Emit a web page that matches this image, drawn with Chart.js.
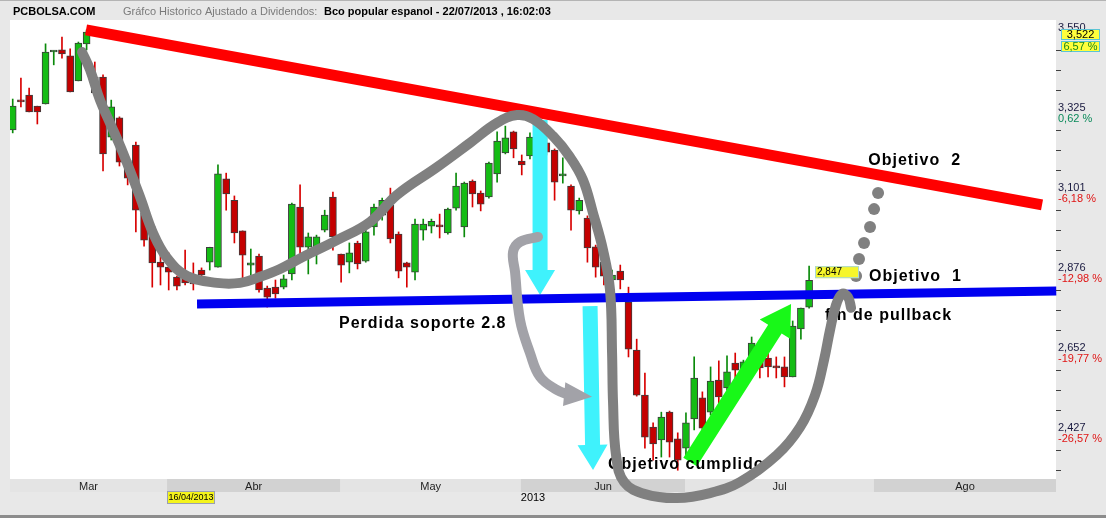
<!DOCTYPE html>
<html>
<head>
<meta charset="utf-8">
<script src="https://cdn.jsdelivr.net/npm/chart.js@4.4.0/dist/chart.umd.min.js"></script>
<style>
html, body { margin: 0; padding: 0; background: #e8e8e8; }
canvas { display: block; }
</style>
</head>
<body>
<canvas id="c" width="1106" height="518"></canvas>
<script>
// one entry per session, 4 Mar 2013 .. 22 Jul 2013
var open = [3.269, 3.353, 3.367, 3.336, 3.342, 3.488, 3.494, 3.477, 3.407, 3.511,
  3.418, 3.418, 3.249, 3.303, 3.185, 3.227, 3.036, 2.997, 2.898, 2.884,
  2.856, 2.854, 2.842, 2.876, 2.898, 2.884, 3.132, 3.072, 2.986, 2.890,
  2.915, 2.825, 2.828, 2.828, 2.865, 3.053, 2.940, 2.940, 2.988, 3.081,
  2.921, 2.898, 2.952, 2.901, 2.997, 3.030, 3.058, 2.977, 2.896, 2.870,
  2.988, 2.999, 3.002, 2.980, 3.050, 2.997, 3.126, 3.092, 3.081, 3.146,
  3.205, 3.264, 3.182, 3.196, 3.247, 3.233, 3.213, 3.140, 3.112, 3.042,
  3.022, 2.941, 2.898, 2.848, 2.873, 2.786, 2.651, 2.525, 2.435, 2.399,
  2.477, 2.402, 2.376, 2.458, 2.517, 2.477, 2.567, 2.545, 2.615, 2.590,
  2.604, 2.629, 2.629, 2.607, 2.604, 2.576, 2.711, 2.772];
var high = [3.356, 3.415, 3.387, 3.336, 3.511, 3.491, 3.530, 3.497, 3.516, 3.550,
  3.460, 3.424, 3.353, 3.306, 3.199, 3.235, 3.044, 3.002, 2.924, 2.924,
  2.859, 2.932, 2.896, 2.882, 2.940, 3.171, 3.148, 3.084, 2.986, 2.935,
  2.921, 2.831, 2.848, 2.862, 3.064, 3.115, 2.980, 2.974, 3.044, 3.095,
  2.921, 2.952, 2.957, 3.002, 3.061, 3.078, 3.106, 2.983, 2.898, 3.019,
  3.019, 3.019, 3.033, 3.050, 3.148, 3.123, 3.129, 3.098, 3.179, 3.264,
  3.280, 3.266, 3.199, 3.261, 3.269, 3.247, 3.216, 3.191, 3.115, 3.078,
  3.028, 2.946, 2.918, 2.876, 2.890, 2.828, 2.682, 2.587, 2.447, 2.477,
  2.480, 2.419, 2.475, 2.632, 2.534, 2.604, 2.621, 2.635, 2.643, 2.623,
  2.688, 2.679, 2.643, 2.632, 2.632, 2.733, 2.769, 2.887];
var low = [3.261, 3.334, 3.320, 3.286, 3.342, 3.452, 3.471, 3.376, 3.407, 3.494,
  3.367, 3.154, 3.241, 3.168, 3.115, 2.983, 2.943, 2.828, 2.834, 2.820,
  2.820, 2.834, 2.820, 2.842, 2.876, 2.884, 3.044, 2.952, 2.854, 2.854,
  2.814, 2.772, 2.797, 2.823, 2.848, 2.912, 2.865, 2.893, 2.983, 2.932,
  2.842, 2.868, 2.879, 2.898, 2.974, 3.016, 2.952, 2.854, 2.828, 2.848,
  2.960, 2.980, 2.966, 2.977, 3.044, 2.969, 3.053, 3.042, 3.078, 3.123,
  3.202, 3.191, 3.143, 3.188, 3.213, 3.199, 3.072, 3.120, 2.988, 3.033,
  2.898, 2.856, 2.834, 2.842, 2.823, 2.632, 2.522, 2.376, 2.342, 2.351,
  2.351, 2.314, 2.351, 2.427, 2.399, 2.469, 2.491, 2.539, 2.517, 2.567,
  2.601, 2.573, 2.576, 2.573, 2.548, 2.576, 2.682, 2.769];
var close = [3.336, 3.348, 3.320, 3.320, 3.488, 3.491, 3.483, 3.376, 3.513, 3.544,
  3.373, 3.202, 3.334, 3.179, 3.134, 3.044, 2.960, 2.896, 2.884, 2.870,
  2.831, 2.840, 2.837, 2.862, 2.940, 3.146, 3.090, 2.980, 2.918, 2.896,
  2.820, 2.800, 2.809, 2.851, 3.061, 2.940, 2.969, 2.969, 3.030, 2.969,
  2.890, 2.924, 2.893, 2.983, 3.053, 3.072, 2.963, 2.873, 2.884, 3.005,
  3.005, 3.013, 2.997, 3.047, 3.112, 3.120, 3.090, 3.061, 3.176, 3.238,
  3.247, 3.216, 3.171, 3.249, 3.227, 3.207, 3.123, 3.146, 3.044, 3.072,
  2.938, 2.884, 2.859, 2.862, 2.848, 2.654, 2.525, 2.407, 2.388, 2.463,
  2.393, 2.342, 2.447, 2.573, 2.432, 2.564, 2.520, 2.590, 2.595, 2.618,
  2.671, 2.601, 2.604, 2.601, 2.576, 2.719, 2.769, 2.847];

// month bands, in session index units
var months = ['Mar', 'Abr', 'May', 'Jun', 'Jul', 'Ago'];
var monthStart = [-0.33, 18.8, 39.9, 61.9, 81.9, 104.9, 127.07];

// right axis
var yTicks = [3.550, 3.325, 3.101, 2.876, 2.652, 2.427];
var yTickLabels = ['3,550', '3,325', '3,101', '2,876', '2,652', '2,427'];
var yPctLabels = ['', '0,62 %', '-6,18 %', '-12,98 %', '-19,77 %', '-26,57 %'];

// hand drawn marks, [session index, price]
var redLine = [[8.93, 3.550], [125.37, 3.059]];
var blueLine = [[22.45, 2.781], [127.1, 2.817]];
var grayPath = [[8.44, 3.488], [9.42, 3.438], [10.63, 3.353], [11.85, 3.289], [13.43, 3.205],
  [15.51, 3.081], [17.09, 2.980], [18.79, 2.910], [21.23, 2.859], [24.88, 2.840], [27.69, 2.840],
  [30.12, 2.857], [32.56, 2.879], [35.36, 2.913], [39.50, 2.960], [43.52, 3.011], [46.81, 3.087],
  [51.68, 3.165], [55.70, 3.233], [58.99, 3.289], [61.43, 3.311], [63.37, 3.300], [65.81, 3.252],
  [67.88, 3.193], [69.46, 3.129], [70.68, 3.036], [71.90, 2.932], [72.75, 2.820], [73.00, 2.643],
  [73.12, 2.503], [73.48, 2.357], [74.46, 2.281], [77.02, 2.247], [80.92, 2.236], [84.93, 2.250],
  [88.59, 2.281], [93.09, 2.357], [95.90, 2.435], [97.72, 2.525], [98.82, 2.624], [99.55, 2.708],
  [100.28, 2.778], [101.01, 2.809], [101.74, 2.800], [102.11, 2.770]];
var lightPath = [[63.98, 2.969], [61.79, 2.955], [60.94, 2.927], [61.18, 2.871], [61.79, 2.736],
  [63.01, 2.643], [64.23, 2.576], [66.30, 2.539], [67.6, 2.527]];
var lightHead = [[67.0, 2.528], [70.56, 2.520]];
var dots = [[105.40, 3.092], [104.91, 3.047], [104.42, 2.997], [103.69, 2.952], [103.08, 2.907], [102.72, 2.859]];
var cyanArrows = [[[64.23, 3.297], [64.23, 2.806]], [[70.32, 2.775], [70.68, 2.315]]];
var greenArrow = [[82.5, 2.337], [94.8, 2.781]];
var notes = [
  { text: 'Objetivo  2', at: [104.2, 3.182] },
  { text: 'Objetivo  1', at: [104.3, 2.857] },
  { text: 'fin de pullback', at: [98.94, 2.747] },
  { text: 'Perdida soporte 2.8', at: [39.74, 2.725] },
  { text: 'Objetivo cumplido', at: [72.51, 2.331] }
];
var lastPrice = { text: '2,847', at: [97.72, 2.870] };

var FONT = '"Liberation Sans", Arial, sans-serif';

function xy(list) {
  return list.map(function (p) { return { x: p[0], y: p[1] }; });
}
function isUp(i) { return close[i] >= open[i]; }

var wickData = close.map(function (c, i) { return { x: i, y: [low[i], high[i]] }; });
var bodyData = close.map(function (c, i) { return { x: i, y: [Math.min(open[i], c), Math.max(open[i], c)] }; });

function arrow(ctx, a, b, shaft, headW, headL, color) {
  var dx = b.x - a.x, dy = b.y - a.y, L = Math.sqrt(dx * dx + dy * dy);
  var ux = dx / L, uy = dy / L, nx = -uy, ny = ux;
  var bx = b.x - ux * headL, by = b.y - uy * headL;
  ctx.fillStyle = color;
  ctx.beginPath();
  ctx.moveTo(a.x + nx * shaft / 2, a.y + ny * shaft / 2);
  ctx.lineTo(bx + nx * shaft / 2, by + ny * shaft / 2);
  ctx.lineTo(bx + nx * headW / 2, by + ny * headW / 2);
  ctx.lineTo(b.x, b.y);
  ctx.lineTo(bx - nx * headW / 2, by - ny * headW / 2);
  ctx.lineTo(bx - nx * shaft / 2, by - ny * shaft / 2);
  ctx.lineTo(a.x - nx * shaft / 2, a.y - ny * shaft / 2);
  ctx.closePath();
  ctx.fill();
}

var paint = {
  id: 'paint',
  beforeDraw: function (chart) {
    var c = chart.ctx, a = chart.chartArea;
    c.save();
    c.fillStyle = '#e8e8e8';
    c.fillRect(0, 0, chart.width, chart.height);
    c.fillStyle = '#ffffff';
    c.fillRect(a.left, a.top, a.right - a.left, a.bottom - a.top + 1);
    c.fillStyle = '#b4b4b4';
    c.fillRect(0, 0, chart.width, 1);
    c.fillStyle = '#8c8c8c';
    c.fillRect(0, 515, chart.width, 3);
    c.restore();
  },
  beforeDatasetsDraw: function (chart) {
    var c = chart.ctx, a = chart.chartArea, sx = chart.scales.x;
    c.save();
    c.font = '11px ' + FONT;
    c.textAlign = 'center';
    c.textBaseline = 'middle';
    for (var m = 0; m < months.length; m++) {
      var x0 = sx.getPixelForValue(monthStart[m]);
      var x1 = sx.getPixelForValue(monthStart[m + 1]);
      c.fillStyle = (m % 2 === 1) ? '#d2d2d2' : '#e4e4e4';
      c.fillRect(x0, a.bottom + 1, x1 - x0, 13);
      c.fillStyle = '#1e1e1e';
      c.fillText(months[m], (x0 + x1) / 2, a.bottom + 9);
    }
    // cursor date and year
    c.fillStyle = '#f4f41c';
    c.fillRect(167, 491, 48, 13);
    c.strokeStyle = '#9aa0b0';
    c.lineWidth = 1;
    c.strokeRect(167.5, 491.5, 47, 12);
    c.fillStyle = '#000';
    c.font = '9px ' + FONT;
    c.fillText('16/04/2013', 191, 498);
    c.font = '11px ' + FONT;
    c.fillText('2013', 533, 498);
    c.restore();
  },
  afterDatasetDraw: function (chart, args) {
    var c = chart.ctx, sx = chart.scales.x, sy = chart.scales.y;
    function px(p) { return { x: sx.getPixelForValue(p[0]), y: sy.getPixelForValue(p[1]) }; }
    c.save();
    if (args.index === 1) {
      cyanArrows.forEach(function (ar) {
        arrow(c, px(ar[0]), px(ar[1]), 15, 30, 25, '#3ff2fc');
      });
      arrow(c, px(greenArrow[0]), px(greenArrow[1]), 16, 36, 30, '#18f818');
      c.fillStyle = '#000';
      c.font = 'bold 16px ' + FONT;
      c.letterSpacing = '1px';
      c.textBaseline = 'middle';
      c.textAlign = 'left';
      notes.forEach(function (n) {
        var p = px(n.at);
        c.fillText(n.text, p.x, p.y);
      });
    }
    if (args.index === 4) {
      arrow(c, px(lightHead[0]), px(lightHead[1]), 0, 24, 28, '#a2a2a8');
    }
    c.restore();
  },
  afterDraw: function (chart) {
    var c = chart.ctx, a = chart.chartArea, sx = chart.scales.x, sy = chart.scales.y;
    c.save();
    // header
    c.textBaseline = 'middle';
    c.textAlign = 'left';
    c.fillStyle = '#000';
    c.font = 'bold 11px ' + FONT;
    c.fillText('PCBOLSA.COM', 13, 12);
    c.fillStyle = '#7a7a7a';
    c.font = '11px ' + FONT;
    c.fillText('Gráfco Historico Ajustado a Dividendos:', 123, 12);
    c.fillStyle = '#000';
    c.font = 'bold 11px ' + FONT;
    c.fillText('Bco popular espanol - 22/07/2013 , 16:02:03', 324, 12);

    // right axis: minor ticks and labels
    var step = (yTicks[0] - yTicks[1]) / 4;
    c.fillStyle = '#404040';
    for (var k = 0; k < yTicks.length; k++) {
      for (var q = 1; q < 4; q++) {
        var ty = Math.round(sy.getPixelForValue(yTicks[k] - q * step)) + 0.5;
        if (ty < a.bottom) c.fillRect(a.right, ty - 0.5, 5, 1);
      }
    }
    c.font = '11px ' + FONT;
    for (var j = 0; j < yTicks.length; j++) {
      var y = sy.getPixelForValue(yTicks[j]);
      c.fillStyle = '#1a1a40';
      c.fillText(yTickLabels[j], a.right + 2, y - 2);
      var pct = yPctLabels[j];
      if (pct) {
        c.fillStyle = pct.charAt(0) === '-' ? '#e01414' : '#0a8a5a';
        c.fillText(pct, a.right + 2, y + 9);
      }
    }
    // top right value boxes
    c.textAlign = 'center';
    c.fillStyle = '#ffff3c';
    c.fillRect(1061, 29, 39, 11);
    c.fillRect(1061, 41, 39, 11);
    c.strokeStyle = '#5cc4d4';
    c.lineWidth = 1;
    c.strokeRect(1061.5, 29.5, 38, 10);
    c.strokeRect(1061.5, 41.5, 38, 10);
    c.fillStyle = '#000';
    c.fillText('3,522', 1080.5, 35);
    c.fillStyle = '#1a8a1a';
    c.fillText('6,57 %', 1080.5, 47);

    // last price box
    var lp = { x: sx.getPixelForValue(lastPrice.at[0]), y: sy.getPixelForValue(lastPrice.at[1]) };
    c.fillStyle = '#f6f62a';
    c.fillRect(lp.x, lp.y - 6, 44, 12);
    c.strokeStyle = '#a8d8d8';
    c.strokeRect(lp.x + 0.5, lp.y - 5.5, 43, 11);
    c.fillStyle = '#000';
    c.textAlign = 'left';
    c.font = '10px ' + FONT;
    c.fillText(lastPrice.text, lp.x + 2, lp.y);
    c.restore();
  }
};

new Chart(document.getElementById('c').getContext('2d'), {
  type: 'bar',
  data: {
    datasets: [
      {
        label: 'wick',
        data: wickData,
        order: 20,
        grouped: false,
        barThickness: 1,
        borderWidth: 0,
        backgroundColor: function (ctx) { return isUp(ctx.dataIndex) ? '#0a8a0a' : '#d80000'; }
      },
      {
        label: 'body',
        data: bodyData,
        order: 19,
        grouped: false,
        barThickness: 7,
        minBarLength: 2,
        borderWidth: 1,
        borderSkipped: false,
        borderColor: '#3c3c3c',
        backgroundColor: function (ctx) { return isUp(ctx.dataIndex) ? '#14bc14' : '#c40000'; }
      },
      {
        type: 'line', label: 'soporte', data: xy(blueLine), order: 10, clip: false,
        borderColor: '#0000f0', borderWidth: 9, pointRadius: 0, fill: false
      },
      {
        type: 'line', label: 'resistencia', data: xy(redLine), order: 9, clip: false,
        borderColor: '#ff0000', borderWidth: 11, pointRadius: 0, fill: false
      },
      {
        type: 'line', label: 'pullback', data: xy(lightPath), order: 8, clip: false,
        borderColor: '#a2a2a8', borderWidth: 10, pointRadius: 0, fill: false,
        tension: 0.4, capBezierPoints: false, borderCapStyle: 'round', borderJoinStyle: 'round'
      },
      {
        type: 'line', label: 'recorrido', data: xy(grayPath), order: 7, clip: false,
        borderColor: '#808080', borderWidth: 10, pointRadius: 0, fill: false,
        tension: 0.4, capBezierPoints: false, borderCapStyle: 'round', borderJoinStyle: 'round'
      },
      {
        type: 'line', label: 'proyeccion', data: xy(dots), order: 6, clip: false,
        showLine: false, pointRadius: 6, pointBorderWidth: 0,
        pointBackgroundColor: '#808080', pointBorderColor: '#808080'
      }
    ]
  },
  options: {
    responsive: false,
    animation: false,
    events: [],
    layout: { padding: { left: 10, right: 50, top: 20, bottom: 40 } },
    plugins: { legend: { display: false }, tooltip: { enabled: false } },
    scales: {
      x: { type: 'linear', min: -0.33, max: 127.07, display: false, offset: false },
      y: { min: 2.2922, max: 3.5779, display: false }
    }
  },
  plugins: [paint]
});
</script>
</body>
</html>
